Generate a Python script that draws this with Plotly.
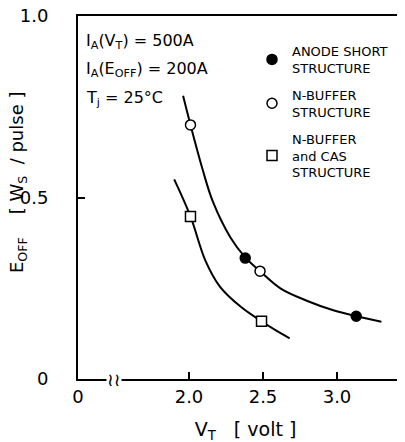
import plotly.graph_objects as go

# curve readings (hand-drawn fit lines)
upper_x = [1.96, 2.01, 2.09, 2.16, 2.28, 2.38, 2.48, 2.62, 2.80, 2.97, 3.13, 3.30]
upper_y = [0.78, 0.70, 0.58, 0.49, 0.39, 0.335, 0.297, 0.249, 0.215, 0.19, 0.173, 0.158]
lower_x = [1.90, 2.01, 2.11, 2.21, 2.35, 2.49, 2.59, 2.68]
lower_y = [0.55, 0.448, 0.327, 0.254, 0.199, 0.159, 0.133, 0.112]

# measured points
anode_x = [2.38, 3.13]
anode_y = [0.333, 0.173]
nbuf_x = [2.01, 2.48]
nbuf_y = [0.70, 0.297]
cas_x = [2.01, 2.49]
cas_y = [0.448, 0.159]

legend_names = ["ANODE SHORT<br>STRUCTURE", "N-BUFFER<br>STRUCTURE", "N-BUFFER<br>and CAS<br>STRUCTURE"]

x_tickvals = [1.25, 2.0, 2.5, 3.0]
x_ticktext = ["0", "2.0", "2.5", "3.0"]
y_tickvals = [0, 0.5, 1.0]
y_ticktext = ["0", "0.5", "1.0"]

FONT = "DejaVu Sans"
# page body has an 8px margin: plot area is placed so that it lands at
# left 78, top 16, bottom 379 in the window
L, T, B = 70, 8, 71
PW = 405 - L
PH = 442 - T - B

fig = go.Figure()

line_style = dict(color="black", width=2, shape="spline", smoothing=1.0)
fig.add_trace(go.Scatter(x=upper_x, y=upper_y, mode="lines", line=line_style, showlegend=False, hoverinfo="skip"))
fig.add_trace(go.Scatter(x=lower_x, y=lower_y, mode="lines", line=line_style, showlegend=False, hoverinfo="skip"))

fig.add_trace(go.Scatter(x=anode_x, y=anode_y, mode="markers", name=legend_names[0], legendgroup="a",
                         marker=dict(symbol="circle", size=10, color="black", line=dict(color="black", width=1.5))))
fig.add_trace(go.Scatter(x=nbuf_x, y=nbuf_y, mode="markers", name=legend_names[1], legendgroup="b",
                         marker=dict(symbol="circle", size=10, color="white", line=dict(color="black", width=1.5))))
fig.add_trace(go.Scatter(x=cas_x, y=cas_y, mode="markers", name=legend_names[2], legendgroup="c",
                         marker=dict(symbol="square", size=10, color="white", line=dict(color="black", width=1.5))))


def px(xw):
    return (xw - 78) / PW


def py(yw):
    return (379 - yw) / PH


fig.update_layout(
    width=405, height=442,
    margin=dict(l=L, r=0, t=T, b=B, autoexpand=False),
    paper_bgcolor="white", plot_bgcolor="white",
    font=dict(family=FONT, color="black"),
    legend=dict(x=px(252), y=py(36), xanchor="left", yanchor="top", bgcolor="rgba(0,0,0,0)",
                font=dict(size=13, family=FONT), itemwidth=30, tracegroupgap=7,
                traceorder="grouped"),
    xaxis=dict(range=[1.25, 1.25 + PW / 148.0], showgrid=False, zeroline=False,
               showline=True, linecolor="black", linewidth=2, mirror=True,
               ticks="inside", ticklen=7, tickwidth=1.5, tickcolor="black",
               tickvals=x_tickvals, ticktext=x_ticktext, tickfont=dict(size=18),
               title=dict(text="V<sub>T</sub>   [ volt ]", font=dict(size=19), standoff=17)),
    yaxis=dict(range=[0, 1.0], showgrid=False, zeroline=False,
               showline=True, linecolor="black", linewidth=2, mirror=False,
               ticks="inside", ticklen=7, tickwidth=1.5, tickcolor="black",
               tickvals=y_tickvals, ticktext=y_ticktext, tickfont=dict(size=18),
               ticklabelstandoff=24, ticklabeloverflow="allow"),
)

fig.add_annotation(xref="paper", yref="paper", x=px(18), y=py(183), xanchor="center", yanchor="middle",
                   textangle=-90,
                   text="E<sub>OFF</sub>    [ W<sub>S</sub>  / pulse ]", showarrow=False,
                   font=dict(size=18))

notes = ["I<sub>A</sub>(V<sub>T</sub>) = 500A", "I<sub>A</sub>(E<sub>OFF</sub>) = 200A", "T<sub>j</sub> = 25°C"]
note_y = [42, 70, 99]
for t, yy in zip(notes, note_y):
    fig.add_annotation(xref="paper", yref="paper", x=px(84), y=py(yy),
                       xanchor="left", yanchor="middle", text=t, showarrow=False,
                       font=dict(size=16))

# axis break mark
fig.add_annotation(xref="x", yref="paper", x=1.49, y=0, yanchor="middle", text="≀≀", showarrow=False,
                   font=dict(size=18), bgcolor="white", borderpad=0)

fig.write_html("out.html")
